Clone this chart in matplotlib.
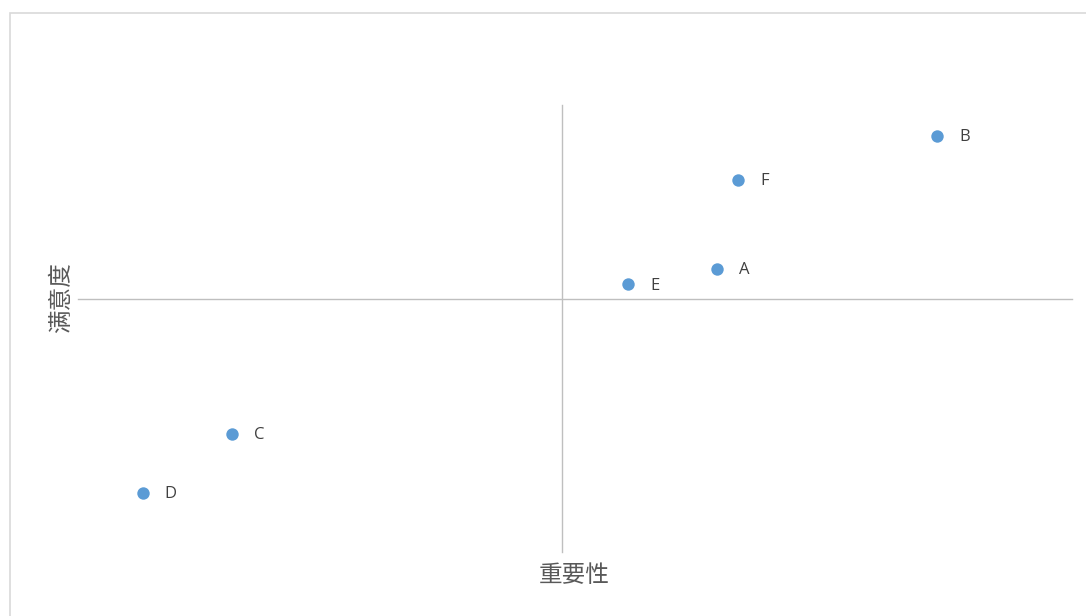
import matplotlib.pyplot as plt
import matplotlib.patches as patches

plt.rcParams['font.family'] = ['Noto Sans CJK SC', 'DejaVu Sans']

# data
names = ['A', 'B', 'C', 'D', 'E', 'F']
importance = [6.43, 8.64, 1.55, 0.65, 5.53, 6.64]
satisfaction = [6.33, 9.31, 2.64, 1.32, 5.99, 8.32]

# where the axes cross
x_cross = 4.87
y_cross = 5.66

W, H = 1086, 616
fig = plt.figure(figsize=(W / 100, H / 100), dpi=100)

# chart area border
fig.patches.append(patches.Rectangle((10 / W, -0.05), 1.1, 0.05 + (H - 13) / H,
                                     transform=fig.transFigure, fill=False,
                                     edgecolor='#d9d9d9', linewidth=1.2))

ax = fig.add_axes([78 / W, (H - 552) / H, 994 / W, 447 / H])
ax.set_xlim(0, 10)
ax.set_ylim(0, 10)

ax.scatter(importance, satisfaction, s=80, color='#5b9bd5', zorder=3, linewidths=0)
for n, x, y in zip(names, importance, satisfaction):
    ax.annotate(n, (x, y), xytext=(16, -1), textcoords='offset points',
                va='center', ha='left', fontsize=12, color='#404040',
                family=['Open Sans', 'DejaVu Sans'])

for s in ['top', 'right']:
    ax.spines[s].set_visible(False)
ax.spines['left'].set_position(('data', x_cross))
ax.spines['bottom'].set_position(('data', y_cross))
for s in ['left', 'bottom']:
    ax.spines[s].set_color('#bfbfbf')
    ax.spines[s].set_linewidth(1.0)
ax.set_xticks([])
ax.set_yticks([])

fig.text(574 / W, 1 - 575 / H, '重要性', ha='center', va='center',
         fontsize=17, color='#595959')
fig.text(62 / W, 1 - 298 / H, '满意度', ha='center', va='center',
         fontsize=17, color='#595959', rotation=90)

fig.savefig('out.png', dpi=100)
